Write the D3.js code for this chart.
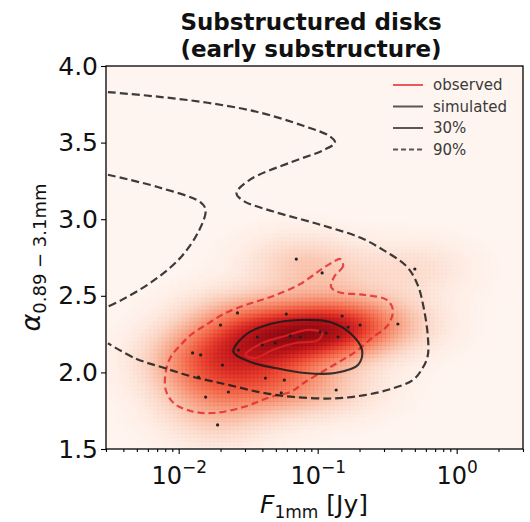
<!DOCTYPE html>
<html>
<head>
	<meta charset='utf-8'>
	<title>Substructured disks</title>
	<style>
		body { margin: 0; background: #fff; }
		text { font-family: 'DejaVu Sans', sans-serif; fill: #111; }
		.axis path.domain { stroke: #000; stroke-width: 1.3px; }
		.axis line { stroke: #000; stroke-width: 1.1px; }
		.legend text { fill: #3a3a3a; font-size: 15px; }
	</style>
</head>
<body>
<script src='https://d3js.org/d3.v7.min.js'></script>
<script>
	'use strict';

	// observed disks: log10(F_1mm / Jy), alpha
	const obsLogF = [-1.154, -0.968, -0.301, -0.423, -1.226, -1.577, -1.699, -0.824, -0.695, -0.781,
		-0.982, -0.939, -0.853, -1.125, -1.197, -1.434, -1.570, -1.900, -1.842, -1.376,
		-1.240, -1.642, -1.806, -1.262, -0.867, -1.720, -1.685, -1.857, -1.398, -1.305];
	const obsAlpha = [2.740, 2.649, 2.675, 2.316, 2.381, 2.388, 2.309, 2.368, 2.309, 2.296,
		2.264, 2.257, 2.231, 2.231, 2.238, 2.231, 2.146, 2.127, 2.114, 1.963,
		1.950, 1.872, 1.839, 1.866, 1.885, 1.657, 2.048, 1.970, 2.179, 2.192];

	// contour levels, [log10 F, alpha]
	const obs90 = [[-0.839, 2.740], [-0.817, 2.695], [-0.882, 2.623], [-0.903, 2.557], [-0.853, 2.525],
		[-0.659, 2.505], [-0.502, 2.473], [-0.459, 2.407], [-0.495, 2.309], [-0.609, 2.225],
		[-0.731, 2.133], [-0.910, 2.035], [-1.090, 1.937], [-1.197, 1.872], [-1.341, 1.839],
		[-1.534, 1.774], [-1.749, 1.735], [-1.914, 1.748], [-2.036, 1.800], [-2.093, 1.885],
		[-2.093, 2.003], [-2.057, 2.101], [-1.986, 2.179], [-1.914, 2.244], [-1.806, 2.309],
		[-1.663, 2.388], [-1.498, 2.446], [-1.319, 2.499], [-1.125, 2.577], [-0.982, 2.668],
		[-0.889, 2.721]];
	const obs30 = [[-1.520, 2.114], [-1.398, 2.192], [-1.233, 2.238], [-1.068, 2.277], [-0.968, 2.257],
		[-0.996, 2.211], [-1.161, 2.192], [-1.326, 2.146], [-1.448, 2.094]];
	const sim30 = [[-1.606, 2.133], [-1.520, 2.244], [-1.341, 2.316], [-1.125, 2.342], [-0.910, 2.329],
		[-0.767, 2.257], [-0.681, 2.146], [-0.710, 2.048], [-0.875, 1.996], [-1.090, 1.996],
		[-1.305, 2.029], [-1.484, 2.068]];
	const sim90a = [[-2.509, 3.83], [-2.151, 3.80], [-1.792, 3.76], [-1.434, 3.70], [-1.104, 3.61],
		[-0.910, 3.54], [-0.875, 3.50], [-0.961, 3.45], [-1.197, 3.37], [-1.484, 3.26],
		[-1.584, 3.17], [-1.534, 3.12], [-1.319, 3.05], [-1.004, 2.97], [-0.695, 2.88],
		[-0.530, 2.80], [-0.358, 2.69], [-0.280, 2.57], [-0.237, 2.42], [-0.208, 2.24],
		[-0.208, 2.11], [-0.244, 2.03], [-0.315, 1.95], [-0.480, 1.89], [-0.674, 1.85],
		[-0.889, 1.83], [-1.176, 1.84], [-1.412, 1.87], [-1.649, 1.92], [-1.892, 1.97],
		[-2.108, 2.03], [-2.308, 2.09], [-2.509, 2.19]];
	const sim90b = [[-2.509, 3.29], [-2.151, 3.21], [-1.842, 3.11], [-1.806, 3.06], [-1.857, 2.92],
		[-1.986, 2.75], [-2.179, 2.60], [-2.416, 2.47], [-2.509, 2.43]];

	const xTicks = [0.01, 0.1, 1];
	const xTickExp = ['\u22122', '\u22121', '0'];
	const yTicks = [1.5, 2.0, 2.5, 3.0, 3.5, 4.0];
	const legendLabels = ['observed', 'simulated', '30%', '90%'];

	const W = 530, H = 522;
	const pL = 106, pR = 523, pT = 66, pB = 449;

	const x = d3.scaleLog().domain([0.003, 3]).range([pL, pR]);
	const y = d3.scaleLinear().domain([1.5, 4.0]).range([pB, pT]);
	const px = d => x(Math.pow(10, d[0]));
	const py = d => y(d[1]);

	const svg = d3.select('body').append('svg')
		.attr('width', W)
		.attr('height', H);

	svg.append('clipPath').attr('id', 'clip')
		.append('rect')
		.attr('x', pL).attr('y', pT)
		.attr('width', pR - pL).attr('height', pB - pT);

	// density of the observed sample, shown as a pixel grid
	const sx = 0.28, sy = 0.13;
	function density(lf, a) {
		let s = 0;
		for (let i = 0; i < obsLogF.length; i++) {
			const dx = (lf - obsLogF[i]) / sx;
			const dy = (a - obsAlpha[i]) / sy;
			s += Math.exp(-0.5 * (dx * dx + dy * dy));
		}
		return s;
	}
	const cell = 4;
	const cells = [];
	for (let cx = pL; cx < pR; cx += cell) {
		for (let cy = pT; cy < pB; cy += cell) {
			const lf = Math.log10(x.invert(cx + cell / 2));
			const a = y.invert(cy + cell / 2);
			cells.push({cx: cx, cy: cy, v: density(lf, a)});
		}
	}
	const vmax = d3.max(cells, d => d.v);
	const color = d3.scaleSequential(d3.interpolateReds).domain([0, vmax * 1.1]);

	const plot = svg.append('g').attr('clip-path', 'url(#clip)');
	plot.selectAll('rect.cell')
		.data(cells)
		.enter().append('rect')
		.attr('class', 'cell')
		.attr('x', d => d.cx)
		.attr('y', d => d.cy)
		.attr('width', cell)
		.attr('height', cell)
		.attr('fill', d => color(d.v))
		.attr('stroke', d => d3.color(color(d.v)).darker(0.8))
		.attr('stroke-width', 0.5)
		.attr('stroke-opacity', d => Math.min(1, d.v / vmax) * 0.6);

	const closed = d3.line().x(px).y(py).curve(d3.curveCatmullRomClosed);
	const open = d3.line().x(px).y(py).curve(d3.curveCatmullRom);

	const contours = [
		{pts: obs90, gen: closed, stroke: '#e0262b', dash: '7,4', op: 0.8},
		{pts: obs30, gen: closed, stroke: '#e0262b', dash: null, op: 0.8},
		{pts: sim30, gen: closed, stroke: '#1a1a1a', dash: null, op: 0.85},
		{pts: sim90a, gen: open, stroke: '#1a1a1a', dash: '8,4', op: 0.85},
		{pts: sim90b, gen: open, stroke: '#1a1a1a', dash: '8,4', op: 0.85}
	];
	plot.selectAll('path.contour')
		.data(contours)
		.enter().append('path')
		.attr('class', 'contour')
		.attr('d', d => d.gen(d.pts))
		.attr('fill', 'none')
		.attr('stroke', d => d.stroke)
		.attr('stroke-opacity', d => d.op)
		.attr('stroke-width', 2.2)
		.attr('stroke-dasharray', d => d.dash);

	plot.selectAll('circle.obs')
		.data(obsLogF)
		.enter().append('circle')
		.attr('class', 'obs')
		.attr('cx', d => x(Math.pow(10, d)))
		.attr('cy', (d, i) => y(obsAlpha[i]))
		.attr('r', 1.6)
		.attr('fill', '#222');

	// frame
	svg.append('rect')
		.attr('x', pL).attr('y', pT)
		.attr('width', pR - pL).attr('height', pB - pT)
		.attr('fill', 'none')
		.attr('stroke', '#000')
		.attr('stroke-width', 1.3);

	// x axis: minor then major ticks
	const minor = [];
	for (let e = -3; e <= 0; e++) {
		for (let m = 2; m <= 9; m++) {
			const v = m * Math.pow(10, e);
			if (v >= 0.003 && v <= 3) minor.push(v);
		}
	}
	svg.append('g')
		.attr('class', 'axis')
		.attr('transform', 'translate(0,' + pB + ')')
		.call(d3.axisBottom(x).tickValues(minor).tickSize(3).tickFormat(''))
		.call(g => g.select('.domain').remove());

	const xAxis = svg.append('g')
		.attr('class', 'axis')
		.attr('transform', 'translate(0,' + pB + ')')
		.call(d3.axisBottom(x).tickValues(xTicks).tickSize(5).tickFormat(''))
		.call(g => g.select('.domain').remove());
	xAxis.selectAll('.tick').each(function(d, i) {
		const t = d3.select(this).append('text')
			.attr('y', 35)
			.attr('text-anchor', 'middle')
			.attr('font-size', 24)
			.attr('fill', '#111');
		t.append('tspan').text('10');
		t.append('tspan').attr('dy', -11).attr('font-size', 17).text(xTickExp[i]);
	});

	const yAxis = svg.append('g')
		.attr('class', 'axis')
		.attr('transform', 'translate(' + pL + ',0)')
		.call(d3.axisLeft(y).tickValues(yTicks).tickSize(5).tickFormat(d3.format('.1f')))
		.call(g => g.select('.domain').remove());
	yAxis.selectAll('.tick text')
		.attr('font-size', 25)
		.attr('font-family', 'DejaVu Sans')
		.attr('fill', '#111')
		.attr('x', -8);

	// title
	const title = svg.append('text')
		.attr('text-anchor', 'middle')
		.attr('font-weight', 'bold')
		.attr('font-size', 23);
	title.append('tspan').attr('x', 311).attr('y', 30).text('Substructured disks');
	title.append('tspan').attr('x', 311).attr('y', 57).text('(early substructure)');

	// axis labels
	const xl = svg.append('text')
		.attr('x', 314).attr('y', 513)
		.attr('text-anchor', 'middle')
		.attr('font-size', 25);
	xl.append('tspan').attr('font-style', 'italic').text('F');
	xl.append('tspan').attr('font-size', 17).attr('dy', 5).text('1mm');
	xl.append('tspan').attr('dy', -5).text(' [Jy]');

	const yl = svg.append('text')
		.attr('transform', 'translate(40,' + ((pT + pB) / 2) + ') rotate(-90)')
		.attr('text-anchor', 'middle')
		.attr('font-size', 27);
	yl.append('tspan').attr('font-style', 'italic').text('\u03b1');
	yl.append('tspan').attr('font-size', 18).attr('dy', 6).text('0.89 \u2212 3.1mm');

	// legend
	const legendStyle = [
		{stroke: '#e0262b', dash: null},
		{stroke: '#222', dash: null},
		{stroke: '#222', dash: null},
		{stroke: '#222', dash: '5,3'}
	];
	const legend = svg.append('g').attr('class', 'legend');
	const rows = legend.selectAll('g')
		.data(legendLabels)
		.enter().append('g')
		.attr('transform', (d, i) => 'translate(393,' + (85 + i * 21.5) + ')');
	rows.append('line')
		.attr('x1', 0).attr('x2', 30)
		.attr('stroke', (d, i) => legendStyle[i].stroke)
		.attr('stroke-opacity', 0.75)
		.attr('stroke-width', 2)
		.attr('stroke-dasharray', (d, i) => legendStyle[i].dash);
	rows.append('text')
		.attr('x', 40)
		.attr('dy', '0.35em')
		.text(d => d);
</script>
</body>
</html>
